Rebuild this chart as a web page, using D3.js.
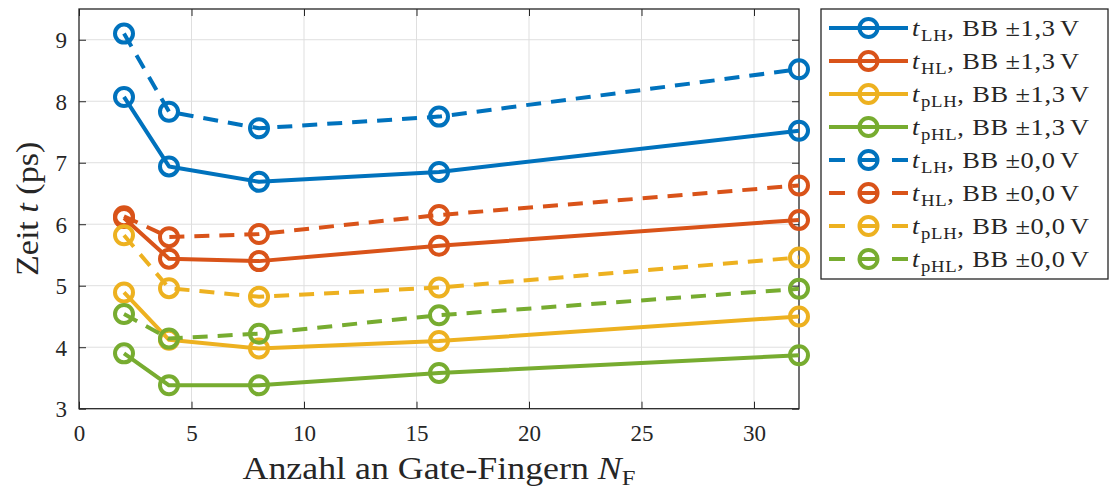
<!DOCTYPE html>
<html lang="de">
<head>
<meta charset="UTF-8">
<title>Zeit vs. Gate-Finger</title>
<script src="https://cdn.jsdelivr.net/npm/d3@7"></script>
<style>
  body { margin: 0; background: #fff; }
  svg text { font-family: "Liberation Serif", "Times New Roman", serif; fill: #262626; }
</style>
</head>
<body>
<div id="chart"></div>
<script>
// data
const nF = [2, 4, 8, 16, 32];
const tLH13  = [8.07, 6.94, 6.69, 6.85, 7.52];
const tHL13  = [6.10, 5.44, 5.40, 5.65, 6.07];
const tpLH13 = [4.89, 4.12, 3.98, 4.10, 4.50];
const tpHL13 = [3.90, 3.38, 3.38, 3.58, 3.87];
const tLH00  = [9.10, 7.83, 7.56, 7.75, 8.52];
const tHL00  = [6.13, 5.79, 5.84, 6.15, 6.63];
const tpLH00 = [5.82, 4.96, 4.82, 4.97, 5.46];
const tpHL00 = [4.54, 4.14, 4.22, 4.52, 4.95];

const xTicks = [0, 5, 10, 15, 20, 25, 30];
const yTicks = [3, 4, 5, 6, 7, 8, 9];

const subs = ["LH", "HL", "pLH", "pHL"];
const volts = ["\u00b11,3", "\u00b10,0"];
const colors = ["#0072BD", "#D95319", "#EDB120", "#77AC30"];

const series = [
  { sub: subs[0], bb: volts[0], color: colors[0], dashed: false, values: tLH13 },
  { sub: subs[1], bb: volts[0], color: colors[1], dashed: false, values: tHL13 },
  { sub: subs[2], bb: volts[0], color: colors[2], dashed: false, values: tpLH13 },
  { sub: subs[3], bb: volts[0], color: colors[3], dashed: false, values: tpHL13 },
  { sub: subs[0], bb: volts[1], color: colors[0], dashed: true, values: tLH00 },
  { sub: subs[1], bb: volts[1], color: colors[1], dashed: true, values: tHL00 },
  { sub: subs[2], bb: volts[1], color: colors[2], dashed: true, values: tpLH00 },
  { sub: subs[3], bb: volts[1], color: colors[3], dashed: true, values: tpHL00 }
];

const W = 1110, H = 490;
const plot = { left: 79, right: 799, top: 9, bottom: 408.7 };
const serif = "'Liberation Serif', 'Times New Roman', serif";

const svg = d3.select("#chart").append("svg")
  .attr("width", W).attr("height", H);

const x = d3.scaleLinear().domain([0, 32]).range([plot.left, plot.right]);
const y = d3.scaleLinear().domain([3, 9.5]).range([plot.bottom, plot.top]);

// grid
const grid = svg.append("g").attr("stroke", "#dfdfdf").attr("stroke-width", 1);
grid.selectAll(".gx").data(xTicks.filter(d => d > 0)).join("line")
  .attr("x1", d => x(d)).attr("x2", d => x(d))
  .attr("y1", plot.top).attr("y2", plot.bottom);
grid.selectAll(".gy").data(yTicks.filter(d => d > 3)).join("line")
  .attr("x1", plot.left).attr("x2", plot.right)
  .attr("y1", d => y(d)).attr("y2", d => y(d));

// axes (ticks pointing inward, box on)
const tickLen = 7;
const fmt = d3.format("d");
const axisBottom = svg.append("g")
  .attr("transform", `translate(0,${plot.bottom})`)
  .call(d3.axisBottom(x).tickValues(xTicks).tickFormat(fmt).tickSizeInner(-tickLen).tickSizeOuter(0).tickPadding(16));
const axisTop = svg.append("g")
  .attr("transform", `translate(0,${plot.top})`)
  .call(d3.axisTop(x).tickValues(xTicks).tickSizeInner(-tickLen).tickSizeOuter(0).tickFormat(""));
const axisLeft = svg.append("g")
  .attr("transform", `translate(${plot.left},0)`)
  .call(d3.axisLeft(y).tickValues(yTicks).tickFormat(fmt).tickSizeInner(-tickLen).tickSizeOuter(0).tickPadding(12));
const axisRight = svg.append("g")
  .attr("transform", `translate(${plot.right},0)`)
  .call(d3.axisRight(y).tickValues(yTicks).tickSizeInner(-tickLen).tickSizeOuter(0).tickFormat(""));

[axisBottom, axisTop, axisLeft, axisRight].forEach(a => {
  a.attr("font-family", serif).attr("font-size", 23);
  a.select(".domain").remove();
  a.selectAll(".tick line").attr("stroke", "#262626").attr("stroke-width", 1);
  a.selectAll("text").attr("fill", "#262626");
});
axisBottom.selectAll("text").attr("dy", "0.71em");
axisLeft.selectAll("text").attr("dy", "0.35em");

svg.append("rect")
  .attr("x", plot.left).attr("y", plot.top)
  .attr("width", plot.right - plot.left).attr("height", plot.bottom - plot.top)
  .attr("fill", "none").attr("stroke", "#262626").attr("stroke-width", 1.3);

// lines + markers
const line = d3.line().x((d, i) => x(nF[i])).y(d => y(d));
const plotG = svg.append("g");
series.forEach(s => {
  const g = plotG.append("g");
  g.append("path")
    .attr("d", line(s.values))
    .attr("fill", "none")
    .attr("stroke", s.color)
    .attr("stroke-width", 4)
    .attr("stroke-linejoin", "round")
    .attr("stroke-dasharray", s.dashed ? "15,10" : null);
  g.selectAll("circle").data(s.values).join("circle")
    .attr("cx", (d, i) => x(nF[i]))
    .attr("cy", d => y(d))
    .attr("r", 9)
    .attr("fill", "none")
    .attr("stroke", s.color)
    .attr("stroke-width", 4);
});

// axis labels (slightly stretched to mimic the wider LaTeX font)
const xc = (plot.left + plot.right) / 2;
svg.append("text")
  .attr("transform", `translate(${xc},479) scale(1.12,1)`)
  .attr("text-anchor", "middle")
  .attr("font-size", 32)
  .call(t => {
    t.append("tspan").text("Anzahl an Gate-Fingern ");
    t.append("tspan").attr("font-style", "italic").text("N");
    t.append("tspan").attr("font-size", 22).attr("dy", 6).text("F");
  });

svg.append("text")
  .attr("transform", `translate(38,${(plot.top + plot.bottom) / 2}) rotate(-90) scale(1.1,1)`)
  .attr("text-anchor", "middle")
  .attr("font-size", 31)
  .call(t => {
    t.append("tspan").text("Zeit ");
    t.append("tspan").attr("font-style", "italic").text("t");
    t.append("tspan").text(" (ps)");
  });

// legend
const leg = { x: 821, y: 9, w: 287, h: 270, row: 33, first: 28 };
const legend = svg.append("g");
legend.append("rect")
  .attr("x", leg.x).attr("y", leg.y).attr("width", leg.w).attr("height", leg.h)
  .attr("fill", "#fff").attr("stroke", "#262626").attr("stroke-width", 1.3);

series.forEach((s, i) => {
  const cy = leg.first + i * leg.row;
  const g = legend.append("g");
  g.append("line")
    .attr("x1", 829).attr("x2", 908).attr("y1", cy).attr("y2", cy)
    .attr("stroke", s.color).attr("stroke-width", 4)
    .attr("stroke-dasharray", s.dashed ? "16,15.5" : null);
  g.append("circle")
    .attr("cx", 868.5).attr("cy", cy).attr("r", 9)
    .attr("fill", "none").attr("stroke", s.color).attr("stroke-width", 4);
  g.append("text")
    .attr("transform", `translate(912,${cy + 8}) scale(1.1,1)`)
    .attr("font-size", 24)
    .attr("letter-spacing", 0.6)
    .call(t => {
      t.append("tspan").attr("font-style", "italic").text("t");
      t.append("tspan").attr("font-size", 17).attr("dy", 5).attr("dx", 1).text(s.sub);
      t.append("tspan").attr("dy", -5).text(",");
      t.append("tspan").attr("dx", 7).text("BB");
      t.append("tspan").attr("dx", 6).text(s.bb);
      t.append("tspan").attr("dx", 4).text("V");
    });
});
</script>
</body>
</html>
